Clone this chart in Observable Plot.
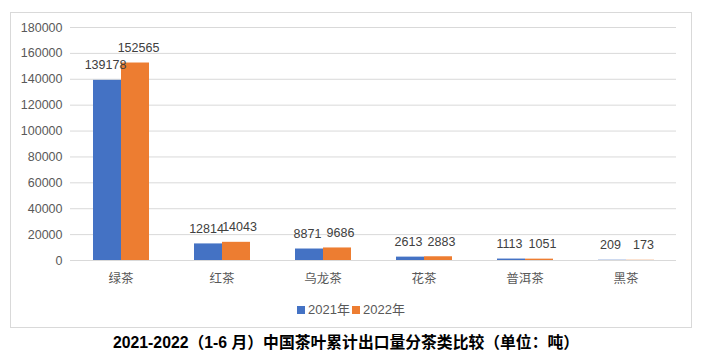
<!DOCTYPE html>
<html><head><meta charset="utf-8">
<script src="https://cdn.jsdelivr.net/npm/d3@7"></script>
<script src="https://cdn.jsdelivr.net/npm/@observablehq/plot@0.6"></script>
<style>
body{margin:0;background:#fff;font-family:"Liberation Sans","Noto Sans CJK SC",sans-serif;}
#wrap{position:relative;width:707px;height:359px;}
#frame{position:absolute;left:10px;top:12px;width:682px;height:316px;border:1px solid #d9d9d9;box-sizing:border-box;}
#chart{position:absolute;left:0;top:0;}
#legend{position:absolute;left:0;width:702px;top:299px;text-align:center;font-size:13px;color:#595959;}
#legend span.sw{display:inline-block;width:8px;height:8px;margin:0 3px 0 0;vertical-align:0px;}
#legend span.item{margin:0 1px;}
#title{position:absolute;left:0;width:692px;top:330px;text-align:center;font-size:15.8px;font-weight:bold;color:#000;}
</style></head>
<body><div id="wrap"><div id="frame"></div><div id="chart"></div>
<div id="legend"></div><div id="title">2021-2022（1-6 月）中国茶叶累计出口量分茶类比较（单位：吨）</div></div>
<script>
const categories = ["绿茶","红茶","乌龙茶","花茶","普洱茶","黑茶"];
const years = ["2021年","2022年"];
const values2021 = [139178,12814,8871,2613,1113,209];
const values2022 = [152565,14043,9686,2883,1051,173];
const colors = ["#4472c4","#ed7d31"];
const yTicks = [0,20000,40000,60000,80000,100000,120000,140000,160000,180000];

const data = [];
categories.forEach((c,i)=>{
  data.push({cat:c, year:years[0], v:values2021[i]});
  data.push({cat:c, year:years[1], v:values2022[i]});
});
const d2021 = data.filter(d=>d.year===years[0]);
const d2022 = data.filter(d=>d.year===years[1]);

const chart = Plot.plot({
  width:707, height:290,
  marginLeft:70, marginRight:31, marginTop:27, marginBottom:30,
  style:{fontFamily:"'Liberation Sans','Noto Sans CJK SC',sans-serif", fontSize:"12.5px", color:"#595959", background:"transparent"},
  fx:{domain:categories, padding:0, label:null, tickSize:0, tickPadding:14, axis:"bottom"},
  x:{domain:years, paddingInner:0, paddingOuter:0.77, axis:null},
  y:{domain:[0,180000], ticks:yTicks, tickSize:0, tickPadding:8, label:null, tickFormat:d=>String(d)},
  color:{domain:years, range:colors},
  marks:[
    Plot.gridY(yTicks,{stroke:"#d9d9d9", strokeOpacity:1, facet:"exclude"}),
    Plot.barY(data,{fx:"cat", x:"year", y:"v", fill:"year"}),
    Plot.text(d2021,{fx:"cat", x:"year", y:"v", text:d=>String(d.v), dy:-15, dx:-2, fill:"#404040", fontSize:12.5}),
    Plot.text(d2022,{fx:"cat", x:"year", y:"v", text:d=>String(d.v), dy:-15, dx:3, fill:"#404040", fontSize:12.5})
  ]
});
document.getElementById("chart").appendChild(chart);

document.getElementById("legend").innerHTML = years.map((y,i)=>
  `<span class="item"><span class="sw" style="background:${colors[i]}"></span>${y}</span>`).join("");
</script></body></html>
